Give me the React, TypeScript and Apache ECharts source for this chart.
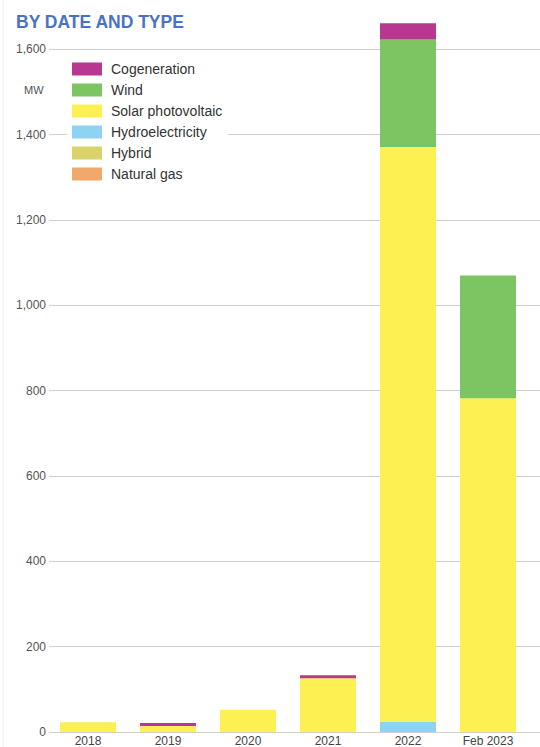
import React, { useEffect, useRef } from "react";
import * as echarts from "echarts";

const categories = ["2018", "2019", "2020", "2021", "2022", "Feb 2023"];
const naturalGas = [0, 0, 0, 0, 0, 0];
const hybrid = [0, 0, 0, 0, 0, 0];
const hydro = [0, 0, 0, 0, 24, 0];
const solar = [23, 14, 52, 126, 1347, 782];
const wind = [0, 0, 0, 0, 252, 288];
const cogeneration = [0, 7, 0, 7, 38, 0];
const legendOrder = ["Cogeneration", "Wind", "Solar photovoltaic", "Hydroelectricity", "Hybrid", "Natural gas"];

const FONT = "Liberation Sans, Arial, Helvetica, sans-serif";

export default function App() {
  const ref = useRef<HTMLDivElement>(null);
  useEffect(() => {
    if (!ref.current) return;
    const chart = echarts.init(ref.current, undefined, { renderer: "svg" });
    const mk = (name: string, data: number[], color: string) => ({
      name,
      type: "bar",
      stack: "total",
      data,
      xAxisIndex: 0,
      yAxisIndex: 0,
      barCategoryGap: "30%",
      itemStyle: { color },
      z: 3,
    });
    chart.setOption({
      animation: false,
      textStyle: { fontFamily: FONT },
      grid: [
        { left: 48, width: 480, top: 6.6, bottom: 15 },
        { left: 49, right: 0, top: 49.3, bottom: 15 },
      ],
      xAxis: [
        {
          type: "category",
          gridIndex: 0,
          data: categories,
          axisLine: { show: false },
          axisTick: { show: false },
          axisLabel: { color: "#444", fontSize: 12, margin: 3, fontFamily: FONT },
        },
        {
          type: "value",
          gridIndex: 1,
          show: true,
          axisLine: { show: false },
          axisTick: { show: false },
          axisLabel: { show: false },
          splitLine: { show: false },
        },
      ],
      yAxis: [
        {
          type: "value",
          gridIndex: 0,
          min: 0,
          max: 1700,
          show: false,
          splitLine: { show: false },
        },
        {
          type: "value",
          gridIndex: 1,
          min: 0,
          max: 1600,
          interval: 200,
          axisLine: { show: false },
          axisTick: { show: false },
          axisLabel: {
            color: "#555",
            fontSize: 12,
            margin: 3,
            fontFamily: FONT,
            formatter: (v: number) => v.toLocaleString("en-US"),
          },
          splitLine: { show: true, lineStyle: { color: "#cfcfcf", width: 1.2 } },
        },
      ],
      legend: {
        data: legendOrder,
        orient: "vertical",
        left: 67,
        top: 58,
        itemWidth: 30,
        itemHeight: 13,
        itemGap: 7,
        padding: [4, 6, 4, 5],
        backgroundColor: "#ffffff",
        icon: "rect",
        textStyle: { color: "#333", fontSize: 14, lineHeight: 14, fontFamily: FONT, padding: [0, 0, 0, 4] },
        z: 10,
      },
      graphic: [
        {
          type: "text",
          left: 16,
          top: 13,
          style: { text: "BY DATE AND TYPE", fill: "#4a72c4", font: "bold 17.5px " + FONT },
        },
        {
          type: "text",
          left: 24,
          top: 84,
          z: 11,
          style: { text: "MW", fill: "#555", font: "11px " + FONT },
        },
        {
          type: "line",
          shape: { x1: 3, y1: 0, x2: 3, y2: 747 },
          style: { stroke: "#f0f0f0", lineWidth: 1 },
        },
      ],
      series: [
        mk("Natural gas", naturalGas, "#f2a86a"),
        mk("Hybrid", hybrid, "#d9d36b"),
        mk("Hydroelectricity", hydro, "#8ed4f2"),
        mk("Solar photovoltaic", solar, "#fdf053"),
        mk("Wind", wind, "#7dc462"),
        mk("Cogeneration", cogeneration, "#b83791"),
      ],
    });
    return () => chart.dispose();
  }, []);
  return (
    <div
      ref={ref}
      style={{ position: "fixed", left: 0, top: 0, width: 540, height: 747, background: "#fff" }}
    />
  );
}
